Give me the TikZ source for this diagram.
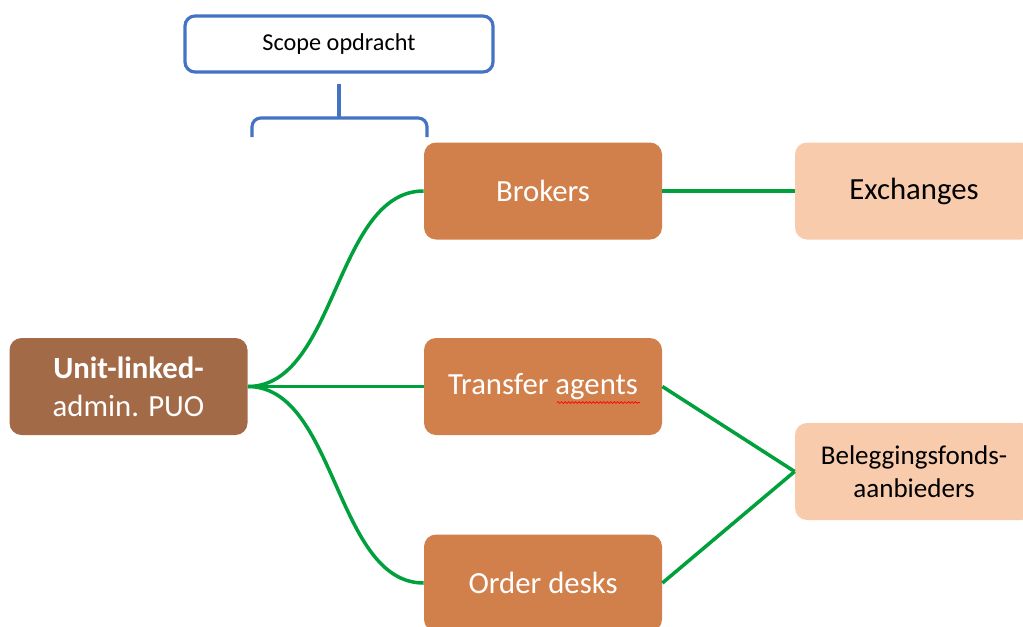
\documentclass[tikz,border=0pt]{standalone}
\usepackage{fontspec}
\setmainfont{Carlito}
\usepackage{xcolor}
\usepackage{tikz}
\usetikzlibrary{decorations.pathmorphing}

\definecolor{puobrown}{RGB}{163,106,72}
\definecolor{partyorange}{RGB}{210,128,75}
\definecolor{marketpeach}{RGB}{248,203,173}
\definecolor{linkgreen}{RGB}{0,160,60}
\definecolor{scopeblue}{RGB}{68,114,196}

\tikzset{
  partybox/.style={rectangle,rounded corners=0.24cm,minimum width=4.76cm,minimum height=1.94cm,
    align=center,inner sep=0pt,font=\fontsize{17.5}{21.5}\selectfont},
  inner/.style={partybox,fill=partyorange,text=white},
  outer/.style={partybox,fill=marketpeach,text=black},
  link/.style={draw=linkgreen,line width=2pt},
  scopeline/.style={draw=scopeblue,line width=1.8pt,rounded corners=5pt}
}

\begin{document}
\begin{tikzpicture}
	\useasboundingbox (0,0) rectangle (20.46,-12.52);
	\node[scopeline,rectangle,rounded corners=0.2cm,minimum width=6.16cm,minimum height=1.12cm,
	  font=\fontsize{13.8}{16}\selectfont] (scope) at (6.78,-0.88) {Scope opdracht};
	\node[partybox,fill=puobrown,text=white] (puo) at (2.57,-7.73) {\textbf{Unit-linked-}\\admin. PUO};
	\node[inner] (brokers) at (10.86,-3.82) {Brokers};
	\node[inner] (transfer) at (10.86,-7.73) {Transfer agents};
	\node[inner] (desks) at (10.86,-11.66) {Order desks};
	\node[outer] (exchanges) at (18.28,-3.82) {Exchanges};
	\node[outer,font=\fontsize{15.4}{19}\selectfont] (funds) at (18.28,-9.43) {Beleggingsfonds-\\aanbieders};
	% brace under the scope box
	\coordinate (stem) at ([yshift=-0.2cm]scope.south);
	\draw[scopeline] (5.04,-2.74) -- (5.04,-2.36) -- (8.54,-2.36) -- (8.54,-2.74);
	\draw[scopeline] (stem) -- (stem |- 0,-2.36);
	% links
	\draw[link] (puo.east) .. controls +(1.77,0) and +(-1.77,0) .. (brokers.west);
	\draw[link] (puo.east) -- (transfer.west);
	\draw[link] (puo.east) .. controls +(1.77,0) and +(-1.77,0) .. (desks.west);
	\draw[link] (brokers.east) -- (exchanges.west);
	\draw[link] (transfer.east) -- (funds.west);
	\draw[link] (desks.east) -- (funds.west);
	% spelling mark
	\draw[red,line width=0.4pt,decorate,decoration={snake,amplitude=0.5pt,segment length=2pt}]
	  ([xshift=0.28cm,yshift=-0.32cm]transfer.center) -- ([xshift=1.94cm,yshift=-0.32cm]transfer.center);
\end{tikzpicture}
\end{document}
